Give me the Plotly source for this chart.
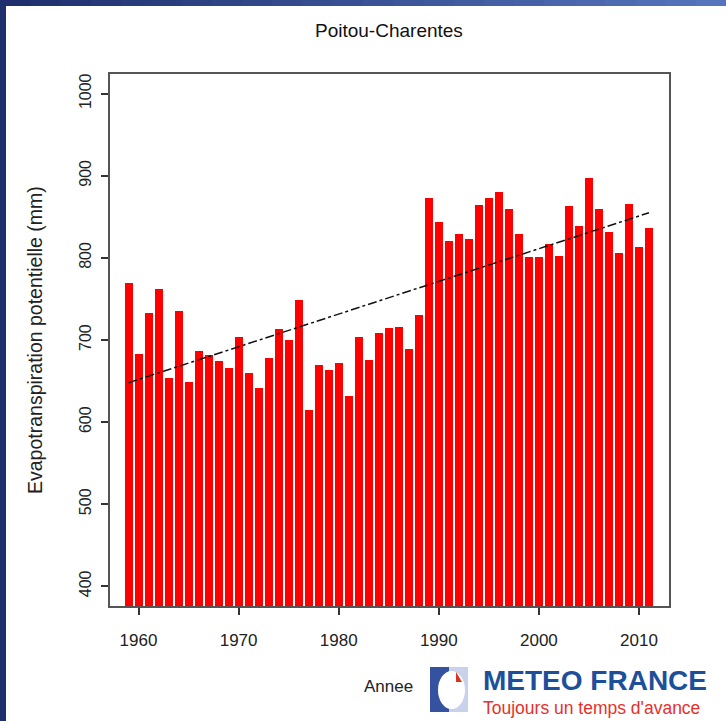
import plotly.graph_objects as go

# ---- data ----
years = list(range(1959, 2012))
etp = [770, 683, 733, 762, 654, 735, 649, 687, 682, 675,
       666, 704, 660, 642, 678, 713, 700, 749, 615, 670,
       663, 672, 632, 704, 676, 709, 715, 716, 689, 731,
       873, 844, 821, 829, 823, 864, 873, 880, 860, 829,
       801, 801, 817, 802, 863, 839, 897, 860, 832, 806,
       866, 813, 836]
trend_years = [1959, 2011]
trend_values = [648, 855]
x_ticks = [1960, 1970, 1980, 1990, 2000, 2010]
y_ticks = [400, 500, 600, 700, 800, 900, 1000]

title = "Poitou-Charentes"
y_title = "Evapotranspiration potentielle (mm)"
x_title = "Annee"

W, H = 726, 721
L, R, T, B = 110, 669, 74, 606  # plot area in pixels


def px(x):
    return (x - L) / (R - L)


def py(y):
    return (B - y) / (B - T)


FONT = "Liberation Sans, Arial, sans-serif"

fig = go.Figure()
fig.add_trace(go.Bar(x=years, y=etp, width=0.8,
                     marker=dict(color="#ff0000", line=dict(width=0)),
                     hoverinfo="x+y"))
fig.add_trace(go.Scatter(x=trend_years, y=trend_values, mode="lines",
                         line=dict(color="#111111", width=1.5, dash="dashdot")))

shapes = []
# decorative border (left band + top gradient band)
shapes.append(dict(type="rect", xref="paper", yref="paper",
                   x0=px(0), x1=px(6), y0=py(721), y1=py(0),
                   fillcolor="#1f2f6e", line=dict(width=0), layer="above"))
n = 24
c0 = (0x1f, 0x2f, 0x6e)
c1 = (0x55, 0x74, 0xbc)
for i in range(n):
    t = i / (n - 1)
    col = "rgb(%d,%d,%d)" % tuple(int(c0[k] + (c1[k] - c0[k]) * t) for k in range(3))
    shapes.append(dict(type="rect", xref="paper", yref="paper",
                       x0=px(W * i / n), x1=px(W * (i + 1) / n + 1),
                       y0=py(6), y1=py(0),
                       fillcolor=col, line=dict(width=0), layer="above"))
# logo icon
shapes.append(dict(type="rect", xref="paper", yref="paper",
                   x0=px(430), x1=px(468), y0=py(712), y1=py(667),
                   fillcolor="#3552a0", line=dict(width=0)))
shapes.append(dict(type="rect", xref="paper", yref="paper",
                   x0=px(449), x1=px(468), y0=py(712), y1=py(667),
                   fillcolor="#c9d2ea", line=dict(width=0)))
shapes.append(dict(type="circle", xref="paper", yref="paper",
                   x0=px(438), x1=px(465), y0=py(709), y1=py(671),
                   fillcolor="#ffffff", line=dict(width=0)))
shapes.append(dict(type="path", xref="paper", yref="paper",
                   path="M %f,%f L %f,%f L %f,%f Z" % (px(456), py(672), px(462), py(682), px(456), py(682)),
                   fillcolor="#e03020", line=dict(width=0)))

annotations = [
    dict(text=title, x=px(389), y=py(30), xref="paper", yref="paper",
         showarrow=False, font=dict(family=FONT, size=19, color="#111"),
         xanchor="center", yanchor="middle"),
    dict(text=y_title, x=px(35), y=0.5, xref="paper", yref="paper",
         showarrow=False, textangle=-90, font=dict(family=FONT, size=19.5, color="#222"),
         xanchor="center", yanchor="middle"),
    dict(text=x_title, x=px(388), y=py(686), xref="paper", yref="paper",
         showarrow=False, font=dict(family=FONT, size=17, color="#222"),
         xanchor="center", yanchor="middle"),
    dict(text="<b>METEO FRANCE</b>", x=px(481), y=py(680), xref="paper", yref="paper",
         showarrow=False, font=dict(family=FONT, size=28, color="#1d4f9a"),
         xanchor="left", yanchor="middle"),
    dict(text="Toujours un temps d'avance", x=px(481), y=py(708), xref="paper", yref="paper",
         showarrow=False, font=dict(family=FONT, size=17.5, color="#e8302a"),
         xanchor="left", yanchor="middle"),
]

fig.update_layout(
    width=W, height=H,
    margin=dict(l=L, r=W - R, t=T, b=H - B, pad=0),
    paper_bgcolor="white", plot_bgcolor="white",
    showlegend=False, bargap=0,
    shapes=shapes, annotations=annotations,
    xaxis=dict(range=[1957.15, 2013.0], tickvals=x_ticks, ticktext=[str(v) for v in x_ticks],
               ticks="outside", ticklen=7, tickwidth=1.5, tickcolor="#333",
               showgrid=False, zeroline=False, showline=True, linecolor="#555",
               linewidth=1.5, mirror=True, ticklabelstandoff=11,
               tickfont=dict(family=FONT, size=17, color="#222")),
    yaxis=dict(range=[376, 1024], tickvals=y_ticks, ticktext=[str(v) for v in y_ticks],
               ticks="outside", ticklen=7, tickwidth=1.5, tickcolor="#333",
               showgrid=False, zeroline=False, showline=True, linecolor="#555",
               linewidth=1.5, mirror=True, tickangle=-90, ticklabelstandoff=4,
               tickfont=dict(family=FONT, size=16, color="#222")),
)

fig.write_html("out.html", config={"displayModeBar": False},
               post_script="document.body.style.margin='0';document.body.style.overflow='hidden';")
